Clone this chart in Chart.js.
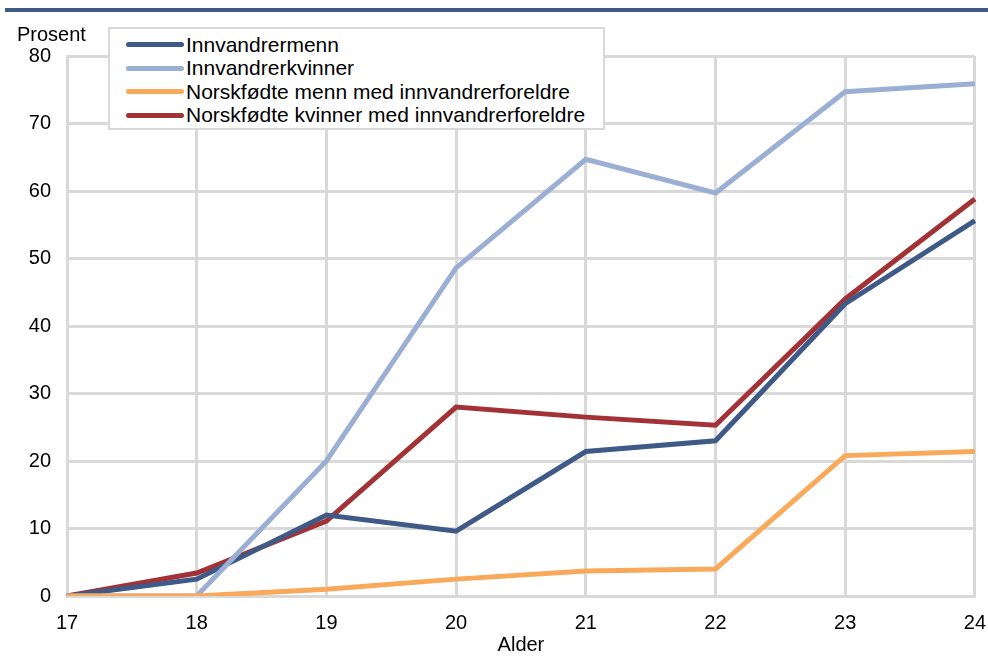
<!DOCTYPE html>
<html>
<head>
<meta charset="utf-8">
<script src="https://cdn.jsdelivr.net/npm/chart.js@4/dist/chart.umd.min.js"></script>
<style>
  html, body { margin: 0; padding: 0; background: #fff; overflow: hidden; }
  #wrap { position: relative; width: 988px; height: 657px; overflow: hidden; font-family: "Liberation Sans", Arial, sans-serif; }
  #rule { position: absolute; left: 5px; right: 0; top: 8px; height: 4px; background: #3f5a87; }
  #unit { position: absolute; left: 17px; top: 23px; font-size: 20px; color: #000; }
  #legend { position: absolute; left: 108px; top: 27px; width: 497px; height: 103px; background: #fff;
            border: 2px solid #d9d9d9; box-sizing: border-box; padding-top: 4px; }
  .item { height: 23.5px; display: flex; align-items: center; font-size: 21px; color: #000; }
  .swatch { width: 58px; height: 5px; border-radius: 3px; margin-left: 16px; margin-right: 2px; }
</style>
</head>
<body>
<div id="wrap">
  <canvas id="chart" width="1001" height="657"></canvas>
  <div id="rule"></div>
  <div id="unit">Prosent</div>
  <div id="legend"></div>
</div>
<script>
// Alder
const ages = ['17', '18', '19', '20', '21', '22', '23', '24'];

// Prosent
const innvMenn = [0, 2.5, 12, 9.6, 21.4, 23, 43.3, 55.6];
const innvKvinner = [0, 0, 20, 48.6, 64.7, 59.7, 74.7, 75.9];
const norskMenn = [0, 0, 1, 2.5, 3.7, 4, 20.8, 21.4];
const norskKvinner = [0, 3.4, 11.1, 28, 26.5, 25.3, 44, 58.8];

const seriesNames = [
  'Innvandrermenn',
  'Innvandrerkvinner',
  'Norskfødte menn med innvandrerforeldre',
  'Norskfødte kvinner med innvandrerforeldre'
];
const seriesColors = ['#3f5a87', '#9bafd4', '#f9a95a', '#a33236'];
const seriesData = [innvMenn, innvKvinner, norskMenn, norskKvinner];

const yTicks = [0, 10, 20, 30, 40, 50, 60, 70, 80];

// legend (html, drawn over the plot like the original)
const legendEl = document.getElementById('legend');
seriesNames.forEach((name, i) => {
  const row = document.createElement('div');
  row.className = 'item';
  row.innerHTML = `<span class="swatch" style="background:${seriesColors[i]}"></span><span>${name}</span>`;
  legendEl.appendChild(row);
});

// draw order: orange and light blue below, dark blue, red on top
const order = [2, 1, 0, 3];
const datasets = seriesNames.map((name, i) => ({
  label: name,
  data: seriesData[i],
  borderColor: seriesColors[i],
  backgroundColor: seriesColors[i],
  borderWidth: 5,
  pointRadius: 0,
  tension: 0,
  fill: false,
  order: order[i]
}));

const gridColor = '#d9d9d9';
const font = { family: '"Liberation Sans", Arial, sans-serif', size: 20 };

new Chart(document.getElementById('chart'), {
  type: 'line',
  data: { labels: ages, datasets },
  options: {
    responsive: false,
    animation: false,
    layout: { padding: { top: 56, right: 0, left: 0, bottom: 0 } },
    plugins: { legend: { display: false }, tooltip: { enabled: false } },
    scales: {
      x: {
        offset: false,
        grid: { color: gridColor, lineWidth: 3, drawTicks: false },
        border: { color: gridColor, width: 3 },
        ticks: { color: '#000', font, padding: 15, maxRotation: 0 },
        title: { display: true, text: 'Alder', color: '#000', font, padding: { top: 3, bottom: 0 } },
        afterFit: s => { s.height = 61; }
      },
      y: {
        min: 0,
        max: 80,
        afterBuildTicks: s => { s.ticks = yTicks.map(v => ({ value: v })); },
        grid: { color: gridColor, lineWidth: 3, drawTicks: false },
        border: { color: gridColor, width: 3 },
        ticks: { color: '#000', font, padding: 16 },
        afterFit: s => { s.width = 67; }
      }
    }
  }
});
</script>
</body>
</html>
